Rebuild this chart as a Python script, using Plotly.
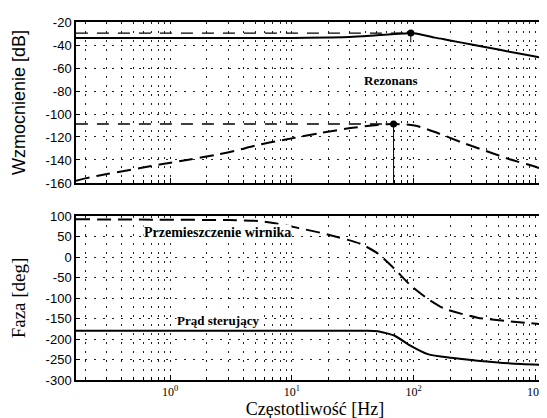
import plotly.graph_objects as go

# ---- data ----
mag_solid_f = [0.168, 1, 5, 10, 20, 30, 50, 70, 85, 95, 110, 150, 200, 300, 500, 700, 1000, 1440]
mag_solid = [-34, -34, -34, -34, -33.5, -33, -31.5, -30.5, -30, -29.6, -30.5, -33.6, -36, -39.6, -44, -47, -50, -53]

mag_dashed_f = [0.168, 0.2, 0.31, 0.57, 0.82, 1.45, 2.37, 3.4, 5.25, 8.5, 17.3, 31.6, 50.7, 68.6,
                102, 158, 253, 391, 627, 1045, 1440]
mag_dashed = [-158, -156, -152, -147, -144, -139.5, -135.5, -132, -127, -122.6, -116.5, -112, -109.6, -108.7,
              -110, -116.5, -125, -132, -139.6, -146.5, -152]

ph_dashed_f = [0.168, 0.79, 3, 5.25, 7.66, 11.2, 19.7, 36.8, 50.7, 69.8, 94.6, 131, 180, 336, 627, 1440]
ph_dashed = [92, 91, 90, 88, 81, 71, 55, 32, 9, -29, -69, -102, -126, -148, -157, -167]

ph_solid_f = [0.168, 13.5, 40, 50.7, 70, 95, 131, 202, 336, 627, 1440]
ph_solid = [-180, -180, -180, -181, -192, -217, -237, -246, -253, -259.5, -264]

x_tickvals = [1, 10, 100, 1000]
x_ticktext = ["10<sup>0</sup>", "10<sup>1</sup>", "10<sup>2</sup>", "10<sup>3</sup>"]
mag_ticks = [-160, -140, -120, -100, -80, -60, -40, -20]
ph_ticks = [-300, -250, -200, -150, -100, -50, 0, 50, 100]

label_rez = "Rezonans"
label_disp = "Przemieszczenie wirnika"
label_curr = "Prąd sterujący"

# ---- derived ----
x_min = min(mag_solid_f)
i_s = mag_solid.index(max(mag_solid))
i_d = mag_dashed.index(max(mag_dashed))
peak_s_f, peak_s = mag_solid_f[i_s], mag_solid[i_s]
peak_d_f, peak_d = mag_dashed_f[i_d], mag_dashed[i_d]

SERIF = "Liberation Serif"
SANS = "Liberation Sans"
DASH = "14px,7px"
GRID = dict(showgrid=True, gridcolor="#222", gridwidth=1, griddash="2px,7px")

minor_vals = [m * 10 ** d for d in range(-1, 4) for m in range(2, 10)]

fig = go.Figure()

# top: magnitude
fig.add_trace(go.Scatter(x=[x_min, peak_s_f], y=[peak_s, peak_s], mode="lines",
                         line=dict(color="black", width=1.3, dash="12px,9px"),
                         xaxis="x2", yaxis="y2", showlegend=False))
fig.add_trace(go.Scatter(x=[x_min, peak_d_f], y=[peak_d, peak_d], mode="lines",
                         line=dict(color="black", width=1.3, dash="12px,9px"),
                         xaxis="x2", yaxis="y2", showlegend=False))
fig.add_trace(go.Scatter(x=[peak_d_f, peak_d_f], y=[peak_d, -160], mode="lines",
                         line=dict(color="black", width=1),
                         xaxis="x2", yaxis="y2", showlegend=False))
fig.add_trace(go.Scatter(x=[peak_s_f, peak_s_f], y=[peak_s, peak_s - 8], mode="lines",
                         line=dict(color="black", width=1),
                         xaxis="x2", yaxis="y2", showlegend=False))
fig.add_trace(go.Scatter(x=mag_solid_f, y=mag_solid, mode="lines",
                         line=dict(color="black", width=2, shape="spline", smoothing=0.8),
                         xaxis="x2", yaxis="y2", showlegend=False))
fig.add_trace(go.Scatter(x=mag_dashed_f, y=mag_dashed, mode="lines",
                         line=dict(color="black", width=2, dash=DASH, shape="spline", smoothing=0.8),
                         xaxis="x2", yaxis="y2", showlegend=False))
fig.add_trace(go.Scatter(x=[peak_s_f, peak_d_f], y=[peak_s, peak_d], mode="markers",
                         marker=dict(color="black", size=7),
                         xaxis="x2", yaxis="y2", showlegend=False))

# bottom: phase
fig.add_trace(go.Scatter(x=ph_solid_f, y=ph_solid, mode="lines",
                         line=dict(color="black", width=2, shape="spline", smoothing=0.6),
                         xaxis="x", yaxis="y", showlegend=False))
fig.add_trace(go.Scatter(x=ph_dashed_f, y=ph_dashed, mode="lines",
                         line=dict(color="black", width=2, dash=DASH, shape="spline", smoothing=0.6),
                         xaxis="x", yaxis="y", showlegend=False))

xcommon = dict(type="log", range=[-0.774, 3.155], tickvals=x_tickvals, ticktext=x_ticktext,
               ticks="inside", ticklen=5, tickcolor="black", showline=True, mirror=True,
               linecolor="black", linewidth=1.5, zeroline=False, automargin=False,
               minor=dict(tickvals=minor_vals, ticks="inside", ticklen=3, tickcolor="black", **GRID),
               **GRID)

ycommon = dict(ticks="inside", ticklen=4, tickcolor="black", showline=True, mirror=True,
               linecolor="black", linewidth=1.5, zeroline=False, automargin=False,
               tickfont=dict(family=SANS, size=13, color="black"), **GRID)

fig.update_layout(
    width=547, height=418,
    margin=dict(l=68, r=1, t=14, b=46),
    paper_bgcolor="white", plot_bgcolor="white",
    xaxis=dict(domain=[0, 1], anchor="y",
               tickfont=dict(family=SERIF, size=12, color="black"),
               title=dict(text="Częstotliwość [Hz]", font=dict(family=SERIF, size=18, color="black"),
                          standoff=4),
               **xcommon),
    xaxis2=dict(domain=[0, 1], anchor="y2", matches="x", showticklabels=False, **xcommon),
    yaxis=dict(domain=[0, 0.4581], range=[-300, 100], tickvals=ph_ticks,
               ticktext=[str(v) for v in ph_ticks],
               title=dict(text="Faza [deg]", font=dict(family=SERIF, size=19, color="black"),
                          standoff=15),
               **ycommon),
    yaxis2=dict(domain=[0.5503, 1], range=[-160, -20], tickvals=mag_ticks,
                ticktext=[str(v) for v in mag_ticks],
                title=dict(text="Wzmocnienie [dB]", font=dict(family=SANS, size=18, color="black"),
                           standoff=15),
                **ycommon),
)

fig.add_annotation(x=1.812, y=-71, xref="x2", yref="y2", text="<b>" + label_rez + "</b>",
                   showarrow=False, font=dict(family=SERIF, size=13, color="black"),
                   bgcolor="white", borderpad=0)
fig.add_annotation(x=0.39, y=59, xref="x", yref="y", text="<b>" + label_disp + "</b>",
                   showarrow=False, font=dict(family=SERIF, size=14, color="black"),
                   bgcolor="white", borderpad=0)
fig.add_annotation(x=0.39, y=-155, xref="x", yref="y", text="<b>" + label_curr + "</b>",
                   showarrow=False, font=dict(family=SERIF, size=13, color="black"),
                   bgcolor="white", borderpad=0)

fig.write_html("out.html")
